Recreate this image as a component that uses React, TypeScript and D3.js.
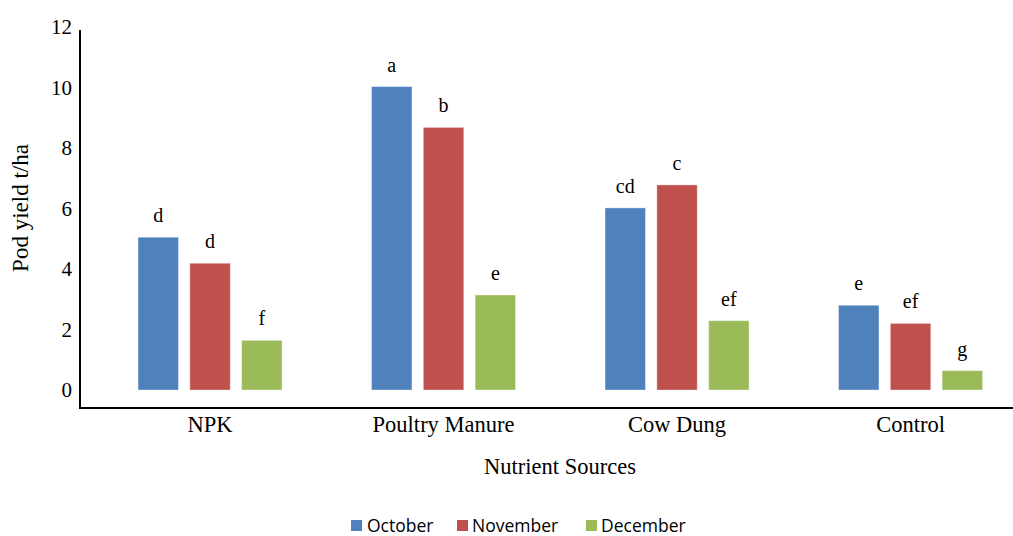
import React from "react";
import * as d3 from "d3";

const categories = ["NPK", "Poultry Manure", "Cow Dung", "Control"];
const seriesNames = ["October", "November", "December"];
const october = [5.05, 10.03, 6.02, 2.8];
const november = [4.19, 8.68, 6.78, 2.2];
const december = [1.64, 3.14, 2.29, 0.64];
const octLetters = ["d", "a", "cd", "e"];
const novLetters = ["d", "b", "c", "ef"];
const decLetters = ["f", "e", "ef", "g"];
const yTicks = [0, 2, 4, 6, 8, 10, 12];
const colors = ["#4F81BD", "#C0504D", "#9BBB59"];

const W = 1013;
const H = 536;
const serif = "'Liberation Serif', 'Times New Roman', serif";
const sans = "'Open Sans', 'Liberation Sans', sans-serif";

export default function App() {
  const values = [october, november, december];
  const letters = [octLetters, novLetters, decLetters];
  const y = d3.scaleLinear().domain([0, 12]).range([390, 27]);
  const x0 = d3.scaleBand<string>().domain(categories).range([93.3, 1027.3]).padding(0);
  const x1 = d3
    .scaleBand<string>()
    .domain(seriesNames)
    .range([-72, 72])
    .paddingInner(0.22)
    .paddingOuter(0);
  const bw = x1.bandwidth();

  const legendItems = [
    { name: "October", sx: 351, tx: 367 },
    { name: "November", sx: 457, tx: 472 },
    { name: "December", sx: 586, tx: 601 },
  ];

  return (
    <svg
      width={W}
      height={H}
      style={{ position: "absolute", left: 0, top: 0, background: "#fff" }}
    >
      <rect x={0} y={0} width={W} height={H} fill="#fff" />
      {categories.map((c, ci) => {
        const cx = (x0(c) as number) + x0.bandwidth() / 2;
        return (
          <g key={c}>
            {seriesNames.map((s, si) => {
              const v = values[si][ci];
              const bx = cx + (x1(s) as number);
              const top = y(v);
              return (
                <g key={s}>
                  <rect
                    x={bx}
                    y={top}
                    width={bw}
                    height={y(0) - top}
                    fill={colors[si]}
                    stroke="rgba(255,255,255,0.35)"
                    strokeWidth={1}
                  />
                  <text
                    x={bx + bw / 2}
                    y={top - 15}
                    textAnchor="middle"
                    fontFamily={serif}
                    fontSize={20}
                    fill="#000"
                  >
                    {letters[si][ci]}
                  </text>
                </g>
              );
            })}
            <text
              x={cx}
              y={432}
              textAnchor="middle"
              fontFamily={serif}
              fontSize={22.5}
              fill="#000"
            >
              {c}
            </text>
          </g>
        );
      })}
      {yTicks.map((t) => (
        <text
          key={t}
          x={72}
          y={y(t)}
          dy="0.35em"
          textAnchor="end"
          fontFamily={serif}
          fontSize={21}
          fill="#000"
        >
          {t}
        </text>
      ))}
      <line x1={80} y1={30} x2={80} y2={409} stroke="#000" strokeWidth={2} />
      <line x1={79} y1={408} x2={W} y2={408} stroke="#000" strokeWidth={2} />
      <text
        transform={`translate(28,${208}) rotate(-90)`}
        textAnchor="middle"
        fontFamily={serif}
        fontSize={23}
        fill="#000"
      >
        Pod yield t/ha
      </text>
      <text
        x={560}
        y={474}
        textAnchor="middle"
        fontFamily={serif}
        fontSize={22.5}
        fill="#000"
      >
        Nutrient Sources
      </text>
      {legendItems.map((l, i) => (
        <g key={l.name}>
          <rect x={l.sx} y={520} width={11} height={11} fill={colors[i]} />
          <text
            x={l.tx}
            y={532}
            fontFamily={sans}
            fontSize={17.5}
            fill="#000"
          >
            {l.name}
          </text>
        </g>
      ))}
    </svg>
  );
}
